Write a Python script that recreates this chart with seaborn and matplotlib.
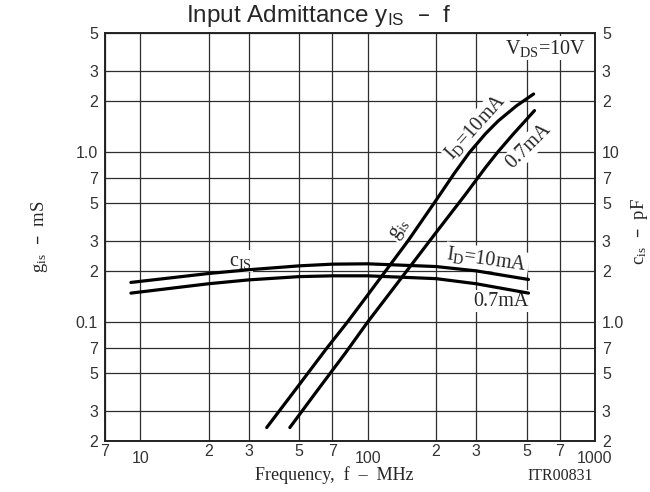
import matplotlib
matplotlib.use("Agg")
import matplotlib.pyplot as plt
import matplotlib.ticker as mticker
import pandas as pd
import seaborn as sns

# ── Data ──────────────────────────────────────────────────────────────────────
# g_is in mS, left axis
f_gis_10 = [36, 50, 66, 81.5, 100, 150, 200, 240, 280, 330, 375, 450, 537]
gis_10 = [0.024, 0.0428, 0.07, 0.1, 0.144, 0.298, 0.52, 0.745, 0.99, 1.28, 1.52, 1.86, 2.19]
f_gis_07 = [45.5, 60, 80, 100, 150, 200, 270, 330, 374, 434, 542]
gis_07 = [0.024, 0.0395, 0.066, 0.1, 0.203, 0.336, 0.565, 0.81, 1.0, 1.26, 1.75]

# c_is in pF, right axis
f_cis = [9.1, 20, 30, 50, 70, 100, 200, 300, 510]
cis_10 = [1.71, 1.93, 2.03, 2.14, 2.19, 2.20, 2.12, 2.0, 1.78]
cis_07 = [1.48, 1.68, 1.77, 1.85, 1.87, 1.87, 1.80, 1.68, 1.48]

x_major = [10, 100, 1000]
x_minor = [7, 20, 30, 50, 70, 200, 300, 500, 700]
x_minor_labels = ["7", "2", "3", "5", "7", "2", "3", "5", "7"]

yl_major = [0.1, 1.0]
yl_major_labels = ["0.1", "1.0"]
yl_minor = [0.02, 0.03, 0.05, 0.07, 0.2, 0.3, 0.5, 0.7, 2, 3, 5]
yl_minor_labels = ["2", "3", "5", "7", "2", "3", "5", "7", "2", "3", "5"]

yr_major = [1.0, 10]
yr_major_labels = ["1.0", "10"]
yr_minor = [0.2, 0.3, 0.5, 0.7, 2, 3, 5, 7, 20, 30, 50]
yr_minor_labels = ["2", "3", "5", "7", "2", "3", "5", "7", "2", "3", "5"]

# ── Style ─────────────────────────────────────────────────────────────────────
sns.set_theme(style="white")
plt.rcParams["font.family"] = ["Liberation Serif", "DejaVu Serif"]
plt.rcParams["mathtext.default"] = "regular"
SANS = "Liberation Sans"
LW = 2.3
GRID = "#2e2e2e"
ANN = 14.5

fig = plt.figure(figsize=(6.5, 4.92), dpi=100)
ax = fig.add_axes([105 / 650, 1 - 441 / 492, 490 / 650, 408 / 492])
ax.set_xscale("log")
ax.set_yscale("log")
ax.set_xlim(7, 1000)
ax.set_ylim(0.02, 5)

ax2 = ax.twinx()
ax2.set_yscale("log")
ax2.set_ylim(0.2, 50)

# ── Curves ────────────────────────────────────────────────────────────────────
df_gis = pd.concat([
    pd.DataFrame({"f": f_gis_10, "v": gis_10, "s": "10mA"}),
    pd.DataFrame({"f": f_gis_07, "v": gis_07, "s": "0.7mA"}),
])
df_cis = pd.concat([
    pd.DataFrame({"f": f_cis, "v": cis_10, "s": "10mA"}),
    pd.DataFrame({"f": f_cis, "v": cis_07, "s": "0.7mA"}),
])
for name, g in df_gis.groupby("s"):
    sns.lineplot(data=g, x="f", y="v", color="black", lw=LW, sort=False,
                 estimator=None, ax=ax, zorder=4)
for name, g in df_cis.groupby("s"):
    sns.lineplot(data=g, x="f", y="v", color="black", lw=LW, sort=False,
                 estimator=None, ax=ax2, zorder=4)

# ── Ticks & grid ──────────────────────────────────────────────────────────────
ax.xaxis.set_major_locator(mticker.FixedLocator(x_major))
ax.xaxis.set_major_formatter(mticker.FixedFormatter(["10", "100", "1000"]))
ax.xaxis.set_minor_locator(mticker.FixedLocator(x_minor))
ax.xaxis.set_minor_formatter(mticker.FixedFormatter(x_minor_labels))
ax.yaxis.set_major_locator(mticker.FixedLocator(yl_major))
ax.yaxis.set_major_formatter(mticker.FixedFormatter(yl_major_labels))
ax.yaxis.set_minor_locator(mticker.FixedLocator(yl_minor))
ax.yaxis.set_minor_formatter(mticker.FixedFormatter(yl_minor_labels))
ax2.yaxis.set_major_locator(mticker.FixedLocator(yr_major))
ax2.yaxis.set_major_formatter(mticker.FixedFormatter(yr_major_labels))
ax2.yaxis.set_minor_locator(mticker.FixedLocator(yr_minor))
ax2.yaxis.set_minor_formatter(mticker.FixedFormatter(yr_minor_labels))

TS = 11.5
ax.tick_params(axis="x", which="minor", length=0, pad=2, labelsize=TS)
ax.tick_params(axis="x", which="major", length=0, pad=7, labelsize=TS)
ax.tick_params(axis="y", which="both", length=0, pad=5, labelsize=TS)
ax2.tick_params(axis="y", which="both", length=0, pad=5, labelsize=TS)
for lab in ax.get_xticklabels(which="both") + ax.get_yticklabels(which="both") \
        + ax2.get_yticklabels(which="both"):
    lab.set_fontfamily(SANS)
    lab.set_color("#333")

ax.grid(True, which="both", color=GRID, lw=0.9)
ax2.grid(False)
for a in (ax, ax2):
    for sp in a.spines.values():
        sp.set_color("#222")
        sp.set_linewidth(1.2)
ax.set_xlabel("")
ax.set_ylabel("")
ax2.set_ylabel("")

# ── Annotations ───────────────────────────────────────────────────────────────
box = dict(facecolor="white", edgecolor="none", pad=1.0)
ax.text(27.5, 0.228, "c$_{IS}$", fontsize=ANN, ha="center", va="center", bbox=box, zorder=3)
ax.text(139, 0.35, "g$_{is}$", fontsize=ANN, ha="center", va="center", rotation=55,
        bbox=box, zorder=3)
ax.text(299, 1.40, "I$_{D}$=10mA", fontsize=ANN, ha="center", va="center", rotation=48,
        bbox=box, zorder=3)
ax.text(510, 1.08, "0.7mA", fontsize=ANN, ha="center", va="center", rotation=45,
        bbox=box, zorder=3)
ax.text(335, 0.235, "I$_{D}$=10mA", fontsize=ANN, ha="center", va="center", rotation=-8,
        bbox=box, zorder=3)
ax.text(386, 0.133, "0.7mA", fontsize=ANN, ha="center", va="center", bbox=box, zorder=3)
ax.text(606, 4.08, "V$_{DS}$=10V", fontsize=ANN, ha="center", va="center", bbox=box, zorder=3)

fig.text(319 / 650, 1 - 16 / 492, "Input Admittance y$_{IS}$  –  f", fontsize=17.5,
         fontfamily=SANS, ha="center", va="center")
fig.text(334 / 650, 1 - 475 / 492, "Frequency,  f  –  MHz", fontsize=13,
         ha="center", va="center")
fig.text(560 / 650, 1 - 476 / 492, "ITR00831", fontsize=11.5, ha="center", va="center")
fig.text(40 / 650, 1 - 237 / 492, "g$_{is}$  –  mS", fontsize=13.5, rotation=90,
         ha="center", va="center")
fig.text(639 / 650, 1 - 232 / 492, "c$_{is}$  –  pF", fontsize=13.5, rotation=90,
         ha="center", va="center")

fig.savefig("out.png", dpi=100)
